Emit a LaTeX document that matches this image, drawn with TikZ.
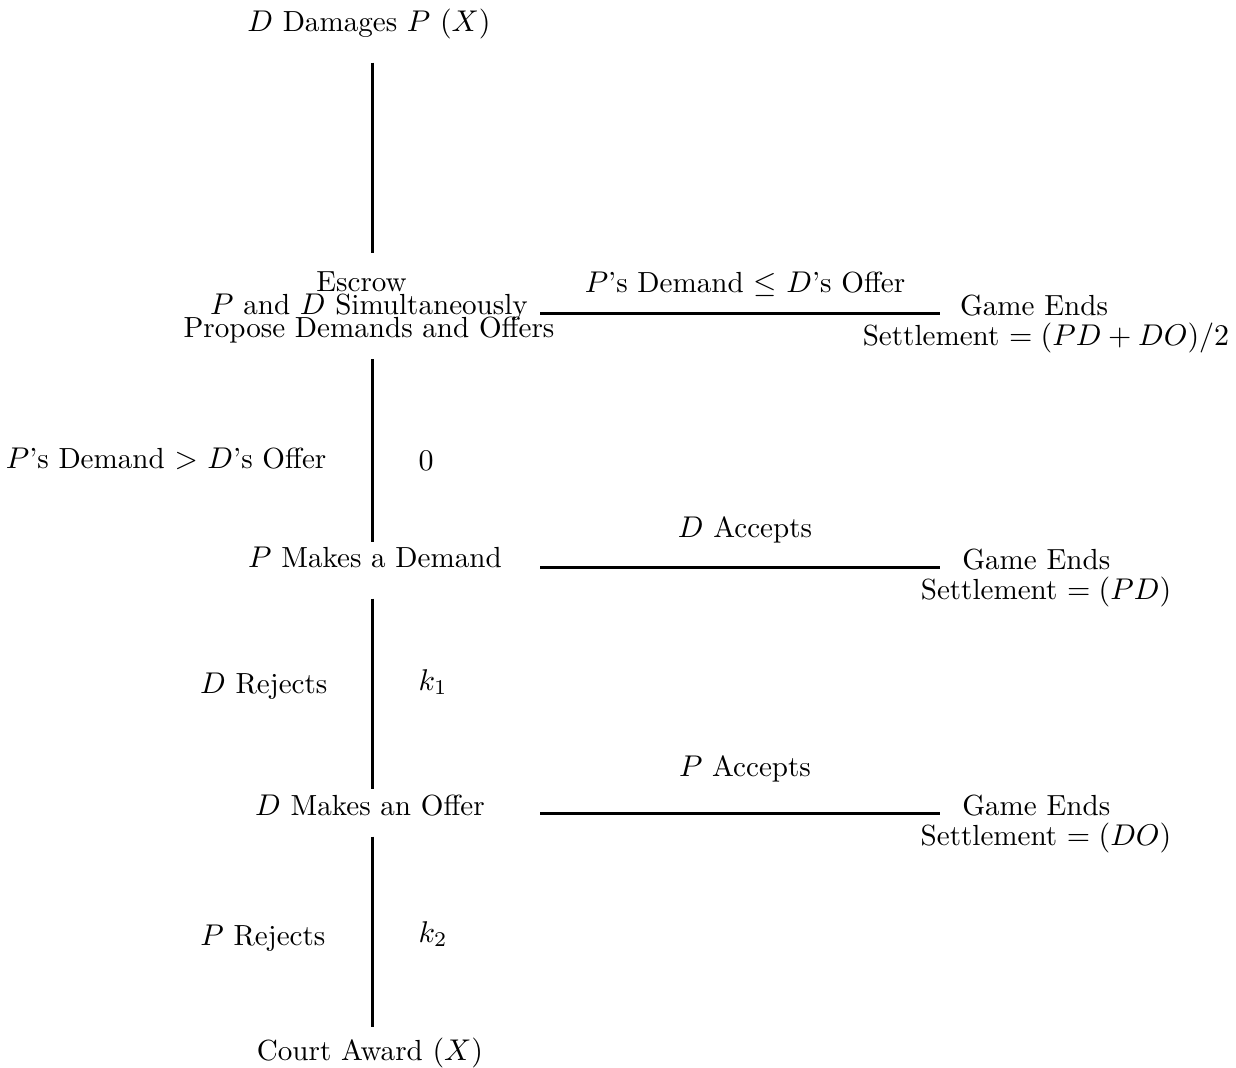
\documentclass[tikz,border=0pt]{standalone}
\begin{document}
\begin{tikzpicture}[x=0.33333pt,y=-0.33333pt,
  font=\fontsize{9.7pt}{11.64pt}\selectfont,
  txt/.style={inner sep=0pt, anchor=base},
  cnode/.style={txt, text height=7pt, text depth=2.5pt},
  multi/.style={inner sep=0pt, align=center, anchor=base},
  vline/.style={line width=1pt},
  hline/.style={line width=1pt}]
\useasboundingbox (0,0) rectangle (1236,1068);
% centre column
\node[cnode] (dam) at (369,32) {$D$ Damages $P$ $(X)$};
\node[multi] (esc) at (369,338)
  {Escrow\hspace*{5pt}\\[-3.97pt] $P$ and $D$ Simultaneously\hspace*{6pt}\\[-3.97pt] Propose Demands and Offers};
\node[cnode] (pmd) at (375,568) {$P$ Makes a Demand};
\node[cnode] (dmo) at (370,815) {$D$ Makes an Offer};
\node[cnode] (court) at (370,1060) {Court Award $(X)$};
% right column
\node[multi] (ge1) at (1046,346)
  {Game Ends\hspace*{8pt}\\[-1.64pt] Settlement $=(PD+DO)/2$};
\node[multi] (ge2) at (1046,600)
  {Game Ends\hspace*{6.5pt}\\[-1.64pt] Settlement $=(PD)$};
\node[multi] (ge3) at (1046,845)
  {Game Ends\hspace*{6.5pt}\\[-1.64pt] Settlement $=(DO)$};
% vertical connectors
\draw[vline, shorten <=7.5pt, shorten >=6.17pt] (dam.south -| 372,0) -- (esc.north -| 372,0);
\draw[vline, shorten <=5pt, shorten >=1.33pt] (esc.south -| 372,0) -- (pmd.north -| 372,0);
\draw[vline, shorten <=7.5pt, shorten >=1.33pt] (pmd.south -| 372,0) -- (dmo.north -| 372,0);
\draw[vline, shorten <=4.5pt, shorten >=3.67pt] (dmo.south -| 372,0) -- (court.north -| 372,0);
% horizontal connectors
\coordinate (h1a) at (540,314); \coordinate (h1b) at (940,314);
\coordinate (h2a) at (540,568); \coordinate (h2b) at (940,568);
\coordinate (h3a) at (540,813); \coordinate (h3b) at (940,813);
\draw[hline] (h1a) -- node[txt, xshift=1.67pt, yshift=7.33pt] (l1) {$P$'s Demand $\le$ $D$'s Offer} (h1b);
\draw[hline] (h2a) -- node[txt, xshift=1.67pt, yshift=10pt] (l2) {$D$ Accepts} (h2b);
\draw[hline] (h3a) -- node[txt, xshift=1.67pt, yshift=12.33pt] (l3) {$P$ Accepts} (h3b);
% side labels
\node[txt, anchor=base east] (r0) at (327,469) {$P$'s Demand $>$ $D$'s Offer};
\node[txt, anchor=base west] (c0) at (418,471) {$0$};
\node[txt, anchor=base east] (r1) at (328,693) {$D$ Rejects};
\node[txt, anchor=base west] (c1) at (418,690) {$k_1$};
\node[txt, anchor=base east] (r2) at (326,945) {$P$ Rejects};
\node[txt, anchor=base west] (c2) at (418,942) {$k_2$};
\end{tikzpicture}
\end{document}
